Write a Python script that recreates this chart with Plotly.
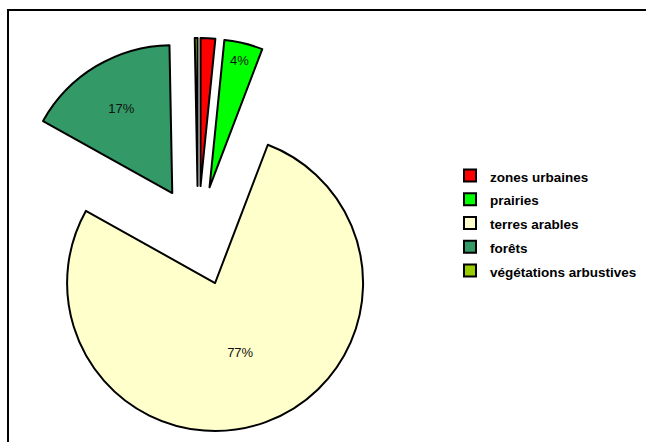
import plotly.graph_objects as go

categories = ["zones urbaines", "prairies", "terres arables", "forêts", "végétations arbustives"]
values = [1.6, 4.2, 77.3, 16.6, 0.3]
colors = ["#FF0000", "#00FF00", "#FFFFCC", "#339966", "#99CC00"]
pct_text = ["", "4%", "77%", "17%", ""]

W, H = 646, 442
pull = 0.338
# pie box (pixels): centre (198, 236), half size 198
cx, cy, half = 198, 236, 198

legend_labels = [f"<span style='font-size:13.5px'>{c}</span>" for c in categories]

fig = go.Figure(go.Pie(
    labels=legend_labels,
    values=values,
    sort=False,
    direction="clockwise",
    rotation=0,
    pull=[pull] * len(values),
    marker=dict(colors=colors, line=dict(color="black", width=2)),
    text=pct_text,
    textinfo="text",
    textposition="inside",
    insidetextorientation="horizontal",
    textfont=dict(family="Liberation Sans, Arial", size=13, color="#111111"),
    domain=dict(x=[(cx - half) / W, (cx + half) / W],
                y=[1 - (cy + half) / H, 1 - (cy - half) / H]),
    hoverinfo="label+percent",
))

fig.update_layout(
    width=W, height=H,
    margin=dict(l=0, r=0, t=0, b=0),
    paper_bgcolor="white",
    plot_bgcolor="white",
    showlegend=True,
    legend=dict(
        x=450 / W, y=1 - 223 / H, xanchor="left", yanchor="middle",
        font=dict(family="Liberation Sans, Arial", size=16, color="black", weight="bold"),
        bgcolor="rgba(0,0,0,0)",
        itemwidth=30,
    ),
    shapes=[dict(
        type="rect", xref="paper", yref="paper",
        x0=8 / W, x1=1.05, y0=-0.05, y1=1 - 10 / H,
        line=dict(color="black", width=2), fillcolor="rgba(0,0,0,0)", layer="above",
    )],
)

fig.write_html("out.html")
